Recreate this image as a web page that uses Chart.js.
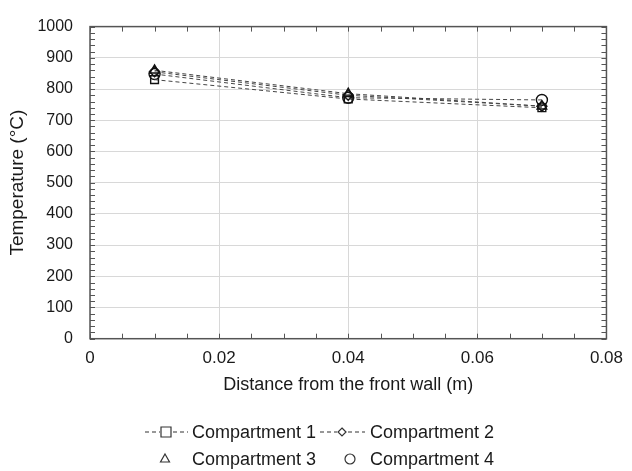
<!DOCTYPE html>
<html>
<head>
<meta charset="utf-8">
<script src="https://cdn.jsdelivr.net/npm/chart.js@4.4.0/dist/chart.umd.min.js"></script>
<style>
  html, body { margin: 0; padding: 0; background: #fff; }
  #wrap { width: 632px; height: 471px; }
</style>
</head>
<body>
<div id="wrap"><canvas id="chart" width="632" height="471"></canvas></div>
<script>
// data
const distance = [0.01, 0.04, 0.07];
const comp1 = [830, 768, 740];
const comp2 = [855, 780, 745];
const comp3 = [860, 785, 745];
const comp4 = [848, 772, 765];
const names = ["Compartment 1", "Compartment 2", "Compartment 3", "Compartment 4"];
const markers = ["rect", "rectRot", "triangle", "circle"];
const yTicks = [0, 100, 200, 300, 400, 500, 600, 700, 800, 900, 1000];
const xTicks = [0, 0.02, 0.04, 0.06, 0.08];

const FONT = "'Liberation Sans', Arial, sans-serif";
const ink = "#1a1a1a";

function makeSet(i, vals) {
  return {
    label: names[i],
    data: distance.map((d, k) => ({ x: d, y: vals[k] })),
    borderColor: "#444",
    borderWidth: 1,
    borderDash: [4, 3],
    pointStyle: markers[i],
    pointRadius: markers[i] == "rectRot" ? 5 : 5.5,
    pointBackgroundColor: "rgba(255,255,255,0)",
    pointBorderColor: "#111",
    pointBorderWidth: 1.4,
    tension: 0
  };
}

// frame + inward minor ticks
const framePlugin = {
  id: "frame",
  afterDatasetsDraw(chart) {
    const ctx = chart.ctx;
    const a = chart.chartArea;
    const xs = chart.scales.x, ys = chart.scales.y;
    ctx.save();
    ctx.strokeStyle = "#555";
    ctx.lineWidth = 1.5;
    ctx.strokeRect(a.left, a.top, a.right - a.left, a.bottom - a.top);
    ctx.lineWidth = 1;
    ctx.beginPath();
    for (let v = 0; v <= 1000; v += 20) {
      const p = Math.round(ys.getPixelForValue(v)) + 0.5;
      ctx.moveTo(a.left, p); ctx.lineTo(a.left + 5, p);
      ctx.moveTo(a.right, p); ctx.lineTo(a.right - 5, p);
    }
    for (let k = 0; k <= 16; k++) {
      const p = Math.round(xs.getPixelForValue(k * 0.005)) + 0.5;
      ctx.moveTo(p, a.bottom); ctx.lineTo(p, a.bottom - 5);
      ctx.moveTo(p, a.top); ctx.lineTo(p, a.top + 5);
    }
    ctx.stroke();
    ctx.restore();
  }
};

function drawMarker(ctx, style, x, y, r) {
  ctx.beginPath();
  if (style == "rect") {
    ctx.rect(x - r, y - r, 2 * r, 2 * r);
  } else if (style == "rectRot") {
    ctx.moveTo(x, y - r); ctx.lineTo(x + r, y); ctx.lineTo(x, y + r); ctx.lineTo(x - r, y); ctx.closePath();
  } else if (style == "triangle") {
    ctx.moveTo(x, y - r); ctx.lineTo(x + r * 0.9, y + r * 0.6); ctx.lineTo(x - r * 0.9, y + r * 0.6); ctx.closePath();
  } else {
    ctx.arc(x, y, r, 0, Math.PI * 2);
  }
  ctx.stroke();
}

// legend under the axis title
const legendPlugin = {
  id: "myLegend",
  afterDraw(chart) {
    const ctx = chart.ctx;
    ctx.save();
    ctx.font = "18px " + FONT;
    ctx.fillStyle = ink;
    ctx.textBaseline = "middle";
    ctx.strokeStyle = "#333";
    ctx.lineWidth = 1.2;
    const items = [
      { x0: 145, x1: 188, mx: 166, tx: 192, y: 432, line: true },
      { x0: 320, x1: 365, mx: 342, tx: 370, y: 432, line: true },
      { mx: 165, tx: 192, y: 459, line: false },
      { mx: 350, tx: 370, y: 459, line: false }
    ];
    items.forEach((it, i) => {
      if (it.line) {
        ctx.setLineDash([4, 3]);
        ctx.beginPath();
        ctx.moveTo(it.x0, it.y); ctx.lineTo(it.x1, it.y);
        ctx.stroke();
        ctx.setLineDash([]);
      }
      ctx.fillStyle = "#fff";
      const r = markers[i] == "rectRot" ? 4 : 5;
      if (it.line) {
        ctx.fillRect(it.mx - r - 1, it.y - r - 1, 2 * r + 2, 2 * r + 2);
      }
      drawMarker(ctx, markers[i], it.mx, it.y, r);
      ctx.fillStyle = ink;
      ctx.fillText(names[i], it.tx, it.y + 1);
    });
    ctx.restore();
  }
};

const chart = new Chart(document.getElementById("chart"), {
  type: "line",
  data: {
    datasets: [makeSet(0, comp1), makeSet(1, comp2), makeSet(2, comp3), makeSet(3, comp4)]
  },
  options: {
    responsive: false,
    animation: false,
    layout: { padding: { left: 0, top: 19, right: 19, bottom: 75 } },
    plugins: { legend: { display: false }, tooltip: { enabled: false } },
    scales: {
      x: {
        type: "linear",
        min: 0, max: 0.08,
        afterBuildTicks: (s) => { s.ticks = xTicks.map(v => ({ value: v })); },
        afterFit: (s) => { s.height = 57.3; },
        grid: { color: "#d8d8d8", drawTicks: false },
        border: { display: false },
        ticks: {
          color: ink, padding: 9, maxRotation: 0,
          font: { family: FONT, size: 17 },
          callback: (v) => String(+v.toFixed(2))
        },
        title: {
          display: true, text: "Distance from the front wall (m)",
          color: ink, font: { family: FONT, size: 18 }, padding: { top: 0, bottom: 0 }
        }
      },
      y: {
        min: 0, max: 1000,
        afterBuildTicks: (s) => { s.ticks = yTicks.map(v => ({ value: v })); },
        afterFit: (s) => { s.width = 90; },
        grid: { color: "#d8d8d8", drawTicks: false },
        border: { display: false },
        ticks: {
          color: ink, padding: 17, font: { family: FONT, size: 16 },
          callback: (v) => String(v)
        },
        title: {
          display: true, text: "Temperature (°C)",
          color: ink, font: { family: FONT, size: 19 }, padding: { top: 6, bottom: 0 }
        }
      }
    }
  },
  plugins: [framePlugin, legendPlugin]
});
</script>
</body>
</html>
